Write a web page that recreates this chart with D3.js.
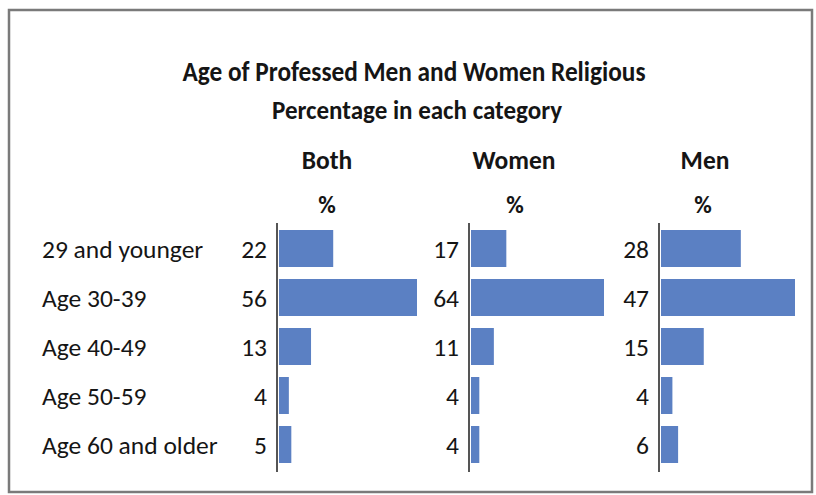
<!DOCTYPE html>
<html>
<head>
<meta charset="utf-8">
<script src="https://cdn.jsdelivr.net/npm/d3@7"></script>
<style>
  html, body { margin: 0; padding: 0; background: #fff; }
  svg { display: block; }
  text { font-family: "Carlito", "Lato", "Open Sans", sans-serif; fill: #151515; }
</style>
</head>
<body>
<svg id="chart" width="816" height="495"></svg>
<script>
// ---- Data ----
const title = "Age of Professed Men and Women Religious";
const subtitle = "Percentage in each category";
const categories = ["29 and younger", "Age 30-39", "Age 40-49", "Age 50-59", "Age 60 and older"];
const groups = ["Both", "Women", "Men"];
const unitLabel = "%";
const bothValues = [22, 56, 13, 4, 5];
const womenValues = [17, 64, 11, 4, 4];
const menValues = [28, 47, 15, 4, 6];

// ---- Layout ----
const svg = d3.select("#chart");

svg.append("rect")
  .attr("x", 9).attr("y", 10)
  .attr("width", 803).attr("height", 482)
  .attr("fill", "#fff")
  .attr("stroke", "#7a7a7a")
  .attr("stroke-width", 2.5);

svg.append("text")
  .attr("x", 414).attr("y", 81)
  .attr("text-anchor", "middle")
  .attr("font-size", 28).attr("font-weight", "bold")
  .attr("textLength", 463).attr("lengthAdjust", "spacingAndGlyphs")
  .text(title);

svg.append("text")
  .attr("x", 417).attr("y", 119)
  .attr("text-anchor", "middle")
  .attr("font-size", 27).attr("font-weight", "bold")
  .attr("textLength", 290).attr("lengthAdjust", "spacingAndGlyphs")
  .text(subtitle);

const y = d3.scaleBand()
  .domain(categories)
  .range([223, 470])
  .paddingInner(0.245)
  .paddingOuter(0.143);

// category labels
svg.append("g").selectAll("text")
  .data(categories)
  .join("text")
  .attr("x", 42)
  .attr("y", d => y(d) + y.bandwidth() / 2)
  .attr("dy", "0.37em")
  .attr("font-size", 25.5)
  .text(d => d);

const panels = [
  { name: groups[0], values: bothValues, axisX: 277, width: 138, headerX: 327, pctX: 327 },
  { name: groups[1], values: womenValues, axisX: 469, width: 133, headerX: 514, pctX: 515 },
  { name: groups[2], values: menValues, axisX: 659, width: 134, headerX: 705, pctX: 703 }
];

panels.forEach(p => {
  const g = svg.append("g");
  const x = d3.scaleLinear()
    .domain([0, d3.max(p.values)])
    .range([p.axisX + 2, p.axisX + 2 + p.width]);

  // header
  g.append("text")
    .attr("x", p.headerX).attr("y", 169)
    .attr("text-anchor", "middle")
    .attr("font-size", 25.5).attr("font-weight", "bold")
    .text(p.name);
  g.append("text")
    .attr("x", p.pctX).attr("y", 213)
    .attr("text-anchor", "middle")
    .attr("font-size", 24).attr("font-weight", "bold")
    .text(unitLabel);

  // bars
  g.selectAll("rect.bar")
    .data(p.values)
    .join("rect")
    .attr("class", "bar")
    .attr("x", x(0))
    .attr("y", (d, i) => y(categories[i]))
    .attr("width", d => x(d) - x(0))
    .attr("height", y.bandwidth())
    .attr("fill", "#5b80c3");

  // axis line
  const axis = d3.axisLeft(y).tickSize(0).tickFormat("");
  const ag = g.append("g")
    .attr("transform", `translate(${p.axisX},0)`)
    .call(axis);
  ag.select(".domain")
    .attr("stroke", "#555")
    .attr("stroke-width", 2)
    .attr("d", `M0,${223}V${472}`);

  // values
  g.selectAll("text.val")
    .data(p.values)
    .join("text")
    .attr("class", "val")
    .attr("x", p.axisX - 10)
    .attr("y", (d, i) => y(categories[i]) + y.bandwidth() / 2)
    .attr("dy", "0.37em")
    .attr("text-anchor", "end")
    .attr("font-size", 25.5)
    .text(d => d);
});
</script>
</body>
</html>
